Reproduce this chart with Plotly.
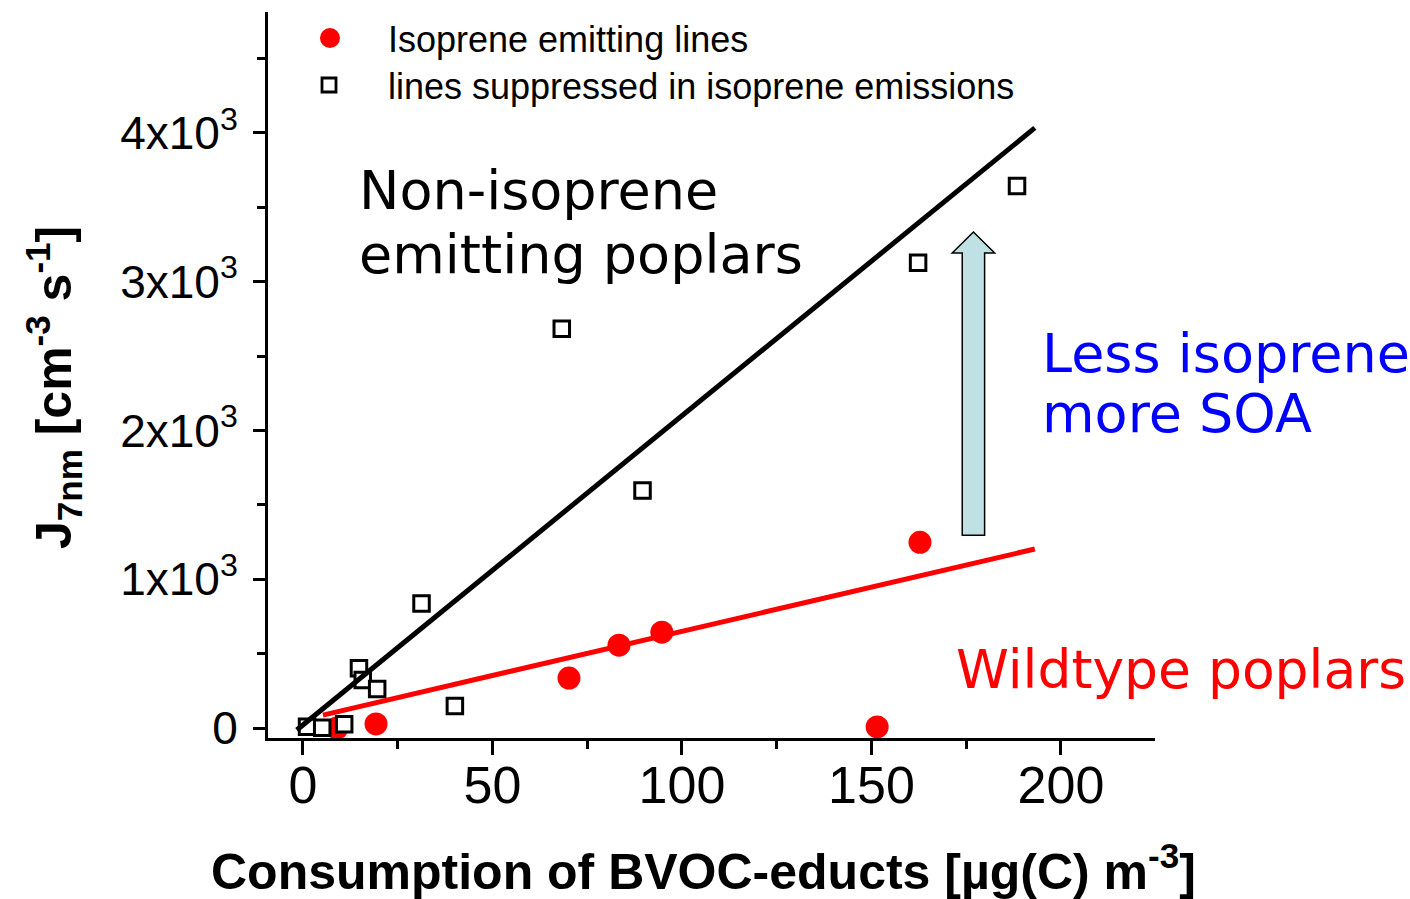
import plotly.graph_objects as go

# Wildtype (isoprene emitting) lines
wild_x = [9.0, 19.3, 70.2, 83.4, 94.7, 151.5, 162.8]
wild_y = [0, 27, 336, 557, 644, 7, 1248]

# Lines suppressed in isoprene emissions
supp_x = [1.1, 5.1, 10.9, 14.8, 15.8, 19.6, 31.3, 40.1, 68.3, 89.6, 162.3, 188.4]
supp_y = [9, 2, 25, 401, 322, 262, 837, 148, 2683, 1597, 3128, 3644]

# Linear fits
supp_fit_x = [-1.6, 193.1]
supp_fit_y = [-13, 4034]
wild_fit_x = [5.3, 193.1]
wild_fit_y = [87, 1203]

x_ticks = [0, 50, 100, 150, 200]
y_ticks = [0, 1000, 2000, 3000, 4000]
y_ticktext = ["0", "1x10<sup>3</sup>", "2x10<sup>3</sup>", "3x10<sup>3</sup>", "4x10<sup>3</sup>"]

# Arrow from the wildtype fit up to the suppressed-lines fit
arrow_xc, arrow_shaft_hw, arrow_head_hw = 176.9, 2.95, 5.6
arrow_y0, arrow_head_base, arrow_tip = 1295, 3193, 3334

ARIAL = "Liberation Sans, Arial, sans-serif"
DEJAVU = "DejaVu Sans, Verdana, sans-serif"

fig = go.Figure()

fig.add_trace(go.Scatter(
    x=wild_x, y=wild_y, mode="markers",
    marker=dict(symbol="circle", size=23, color="#ff0000", line=dict(width=0)),
    name="Isoprene emitting lines", cliponaxis=False))
fig.add_trace(go.Scatter(
    x=supp_x, y=supp_y, mode="markers",
    marker=dict(symbol="square", size=15.5, color="white", line=dict(width=3, color="black")),
    name="lines suppressed in isoprene emissions", cliponaxis=False))
fig.add_trace(go.Scatter(
    x=supp_fit_x, y=supp_fit_y, mode="lines",
    line=dict(color="black", width=5), showlegend=False, cliponaxis=False))
fig.add_trace(go.Scatter(
    x=wild_fit_x, y=wild_fit_y, mode="lines",
    line=dict(color="#ff0000", width=5), showlegend=False, cliponaxis=False))

path = (f"M {arrow_xc - arrow_shaft_hw},{arrow_y0} "
        f"L {arrow_xc + arrow_shaft_hw},{arrow_y0} "
        f"L {arrow_xc + arrow_shaft_hw},{arrow_head_base} "
        f"L {arrow_xc + arrow_head_hw},{arrow_head_base} "
        f"L {arrow_xc},{arrow_tip} "
        f"L {arrow_xc - arrow_head_hw},{arrow_head_base} "
        f"L {arrow_xc - arrow_shaft_hw},{arrow_head_base} Z")
shapes = [dict(type="path", path=path, xref="x", yref="y",
               fillcolor="#bfe1e3", line=dict(color="black", width=1.5), layer="above")]

# Hand-drawn legend glyphs (paper coordinates)
W, H = 887.0, 726.0
def px(xp):
    return (xp - 268) / W
def py(yp):
    return (738 - yp) / H

shapes.append(dict(type="circle", xref="paper", yref="paper",
                   x0=px(320), x1=px(340), y0=py(48), y1=py(28),
                   fillcolor="#ff0000", line=dict(width=0)))
shapes.append(dict(type="rect", xref="paper", yref="paper",
                   x0=px(322), x1=px(336), y0=py(92), y1=py(78),
                   fillcolor="white", line=dict(width=2.8, color="black")))

annotations = [
    dict(text="Isoprene emitting lines", x=px(386), y=py(40), xref="paper", yref="paper",
         xanchor="left", yanchor="middle", showarrow=False,
         font=dict(family=ARIAL, size=36, color="black")),
    dict(text="lines suppressed in isoprene emissions", x=px(386), y=py(87), xref="paper", yref="paper",
         xanchor="left", yanchor="middle", showarrow=False,
         font=dict(family=ARIAL, size=36, color="black")),
    dict(text="Non-isoprene", x=px(357), y=py(190), xref="paper", yref="paper",
         xanchor="left", yanchor="middle", showarrow=False,
         font=dict(family=DEJAVU, size=54, color="black")),
    dict(text="emitting poplars", x=px(357), y=py(254), xref="paper", yref="paper",
         xanchor="left", yanchor="middle", showarrow=False,
         font=dict(family=DEJAVU, size=54, color="black")),
    dict(text="Less isoprene", x=px(1040), y=py(353), xref="paper", yref="paper",
         xanchor="left", yanchor="middle", showarrow=False,
         font=dict(family=DEJAVU, size=54, color="#0000ff")),
    dict(text="more SOA", x=px(1040), y=py(414), xref="paper", yref="paper",
         xanchor="left", yanchor="middle", showarrow=False,
         font=dict(family=DEJAVU, size=54, color="#0000ff")),
    dict(text="Wildtype poplars", x=px(954), y=py(669), xref="paper", yref="paper",
         xanchor="left", yanchor="middle", showarrow=False,
         font=dict(family=DEJAVU, size=53.5, color="#ff0000")),
    dict(text="<b>Consumption of BVOC-educts [µg(C) m<sup>-3</sup>]</b>",
         x=px(703), y=py(868), xref="paper", yref="paper",
         xanchor="center", yanchor="middle", showarrow=False,
         font=dict(family=ARIAL, size=50, color="black")),
    dict(text="<b>J<sub>7nm</sub> [cm<sup>-3</sup> s<sup>-1</sup>]</b>",
         x=px(53), y=py(388), xref="paper", yref="paper", textangle=-90,
         xanchor="center", yanchor="middle", showarrow=False,
         font=dict(family=ARIAL, size=50, color="black")),
]

fig.update_layout(
    width=1410, height=899,
    margin=dict(l=268, r=255, t=12, b=161),
    paper_bgcolor="white", plot_bgcolor="white",
    showlegend=False,
    shapes=shapes, annotations=annotations,
    xaxis=dict(range=[-9.2, 224.8], tickvals=x_ticks, ticktext=[str(v) for v in x_ticks],
               showgrid=False, zeroline=False, showline=True, linecolor="black", linewidth=3,
               ticks="outside", ticklen=14, tickwidth=3, tickcolor="black",
               minor=dict(dtick=25, tick0=0, ticks="outside", ticklen=8, tickwidth=3, tickcolor="black"),
               tickfont=dict(family=ARIAL, size=52, color="black"), ticklabelstandoff=-14),
    yaxis=dict(range=[-67.2, 4813], tickvals=y_ticks, ticktext=y_ticktext,
               showgrid=False, zeroline=False, showline=True, linecolor="black", linewidth=3,
               ticks="outside", ticklen=12, tickwidth=3, tickcolor="black",
               minor=dict(dtick=500, tick0=0, ticks="outside", ticklen=8, tickwidth=3, tickcolor="black"),
               tickfont=dict(family=ARIAL, size=46, color="black"), ticklabelstandoff=6),
)

fig.write_html("out.html")
